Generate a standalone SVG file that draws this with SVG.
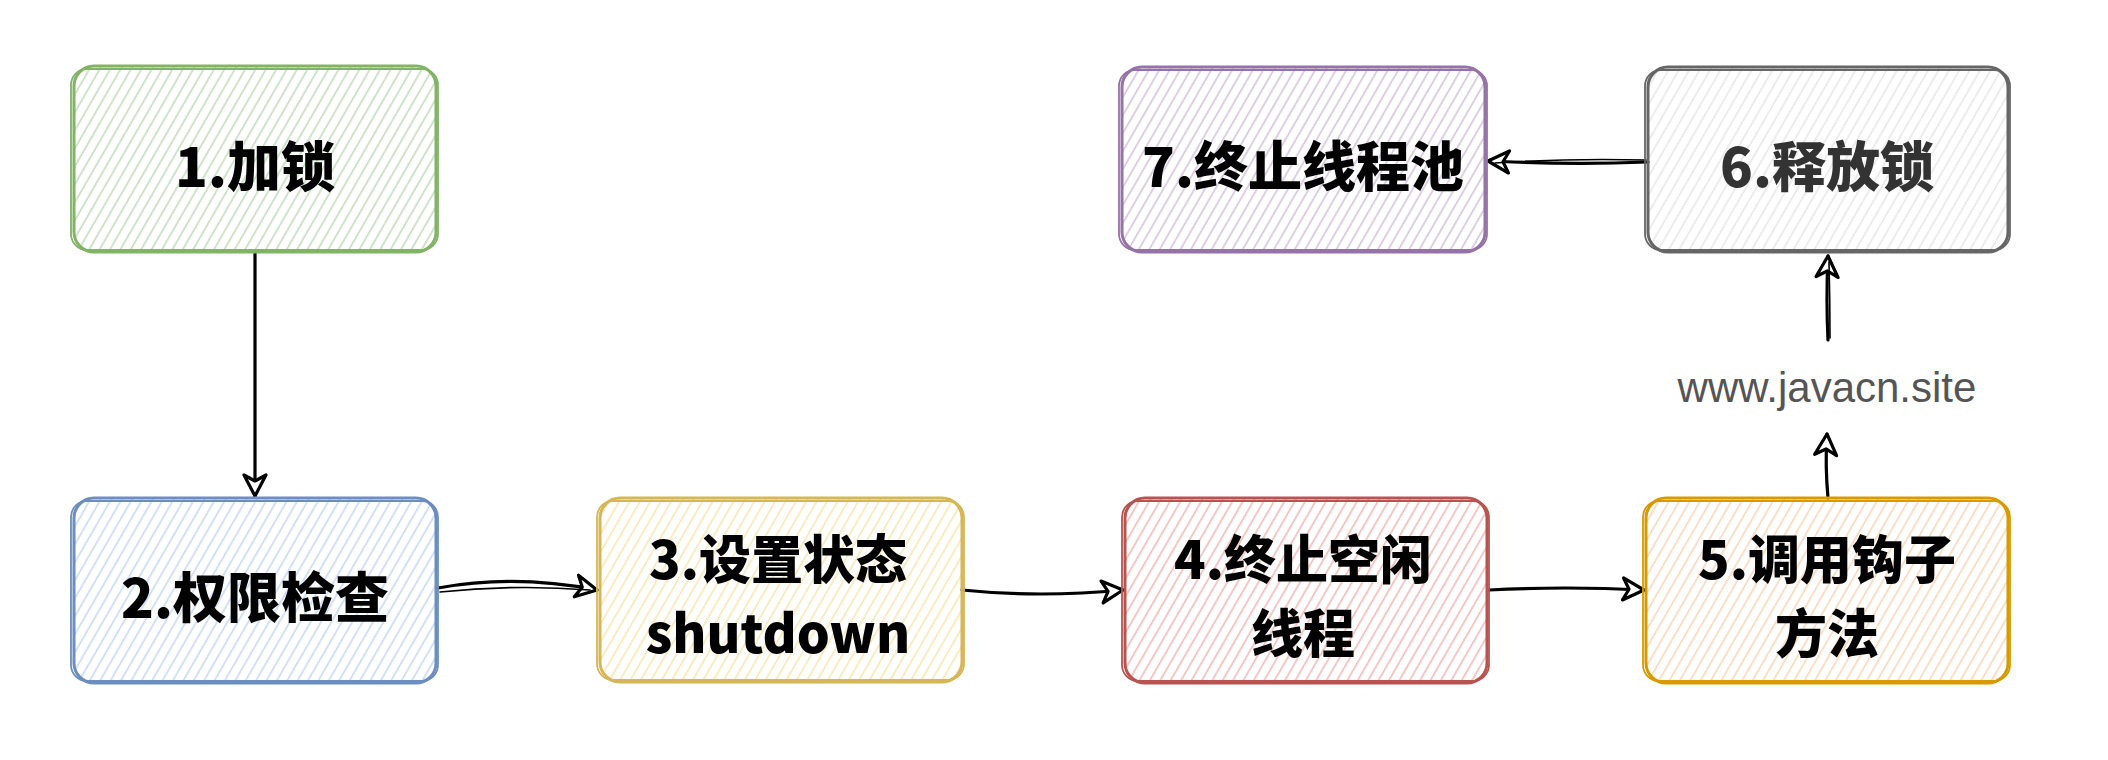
<svg xmlns="http://www.w3.org/2000/svg" width="2108" height="760" viewBox="0 0 2108 760">
  <style>
    .label { font-family: "Noto Sans CJK SC", "Noto Sans", sans-serif; font-weight: 900; font-size: 54px; fill: #000000; text-anchor: middle; dominant-baseline: central; }
    .two { font-size: 52px; }
    .b1 { fill: none; stroke-width: 3; }
    .b2 { fill: none; stroke-width: 1.8; }
    .conn { fill: none; stroke: #000000; stroke-width: 3.2; stroke-linecap: round; }
    .conn2 { fill: none; stroke: #000000; stroke-width: 1.6; stroke-linecap: round; }
    .site { font-family: "Liberation Sans", Arial, sans-serif; font-size: 42px; fill: #555555; text-anchor: middle; }
  </style>
  <defs>
    <pattern id="hG" patternUnits="userSpaceOnUse" width="9" height="9" patternTransform="rotate(30)"><line x1="4" y1="0" x2="4" y2="9" stroke="#c6e0c0" stroke-width="1.7"/></pattern>
    <pattern id="hB" patternUnits="userSpaceOnUse" width="9" height="9" patternTransform="rotate(30)"><line x1="4" y1="0" x2="4" y2="9" stroke="#cadcf6" stroke-width="1.7"/></pattern>
    <pattern id="hY" patternUnits="userSpaceOnUse" width="9" height="9" patternTransform="rotate(30)"><line x1="4" y1="0" x2="4" y2="9" stroke="#f9e8b8" stroke-width="1.7"/></pattern>
    <pattern id="hR" patternUnits="userSpaceOnUse" width="9" height="9" patternTransform="rotate(30)"><line x1="4" y1="0" x2="4" y2="9" stroke="#f3bebc" stroke-width="1.7"/></pattern>
    <pattern id="hO" patternUnits="userSpaceOnUse" width="9" height="9" patternTransform="rotate(30)"><line x1="4" y1="0" x2="4" y2="9" stroke="#fbd9bc" stroke-width="1.7"/></pattern>
    <pattern id="hS" patternUnits="userSpaceOnUse" width="9" height="9" patternTransform="rotate(30)"><line x1="4" y1="0" x2="4" y2="9" stroke="#e9e9e9" stroke-width="1.7"/></pattern>
    <pattern id="hP" patternUnits="userSpaceOnUse" width="9" height="9" patternTransform="rotate(30)"><line x1="4" y1="0" x2="4" y2="9" stroke="#d8c8e0" stroke-width="1.7"/></pattern>
    <marker id="arr" markerUnits="userSpaceOnUse" markerWidth="30" markerHeight="30" refX="25" refY="15" orient="auto">
      <path d="M4,4 L25,15 L4,26 L10,15 Z" fill="#ffffff" stroke="#000000" stroke-width="3.2" stroke-linejoin="round"/>
    </marker>
  </defs>

  <g id="connectors">
    <path class="conn" d="M255,252 L255,496" marker-end="url(#arr)"/>
    <path class="conn" d="M438,588 Q515,574 597,590" marker-end="url(#arr)"/>
    <path class="conn2" d="M440,592 Q515,584 590,590"/>
    <path class="conn" d="M962,590 Q1040,598 1123,590" marker-end="url(#arr)"/>
    <path class="conn" d="M1489,590 Q1565,586 1644,590" marker-end="url(#arr)"/>
    <path class="conn" d="M1828,498 Q1825,465 1827,434" marker-end="url(#arr)"/>
    <path class="conn" d="M1828,340 Q1826,300 1828,256" marker-end="url(#arr)"/>
    <path class="conn2" d="M1830,338 Q1830,300 1829,262"/>
    <path class="conn" d="M1648,162 Q1570,165 1488,161" marker-end="url(#arr)"/>
    <path class="conn2" d="M1646,160 Q1570,158 1495,163"/>
  </g>

  <g id="node1">
    <rect x="74" y="66" width="362" height="186" rx="20" fill="url(#hG)"/>
    <rect class="b1" x="74" y="66" width="362" height="186" rx="20" stroke="#82b366"/>
    <rect class="b2" x="71" y="69" width="367" height="181" rx="16" stroke="#82b366"/>
    <text class="label" x="255" y="163">1.加锁</text>
  </g>

  <g id="node2">
    <rect x="74" y="498" width="362" height="185" rx="20" fill="url(#hB)"/>
    <rect class="b1" x="74" y="498" width="362" height="185" rx="20" stroke="#6c8ebf"/>
    <rect class="b2" x="71" y="501" width="367" height="180" rx="16" stroke="#6c8ebf"/>
    <text class="label" x="255" y="594">2.权限检查</text>
  </g>

  <g id="node3">
    <rect x="600" y="498" width="362" height="184" rx="20" fill="url(#hY)"/>
    <rect class="b1" x="600" y="498" width="362" height="184" rx="20" stroke="#d6b656"/>
    <rect class="b2" x="597" y="501" width="367" height="179" rx="16" stroke="#d6b656"/>
    <text class="label two" x="778" y="556">3.设置状态</text>
    <text class="label two" x="778" y="630">shutdown</text>
  </g>

  <g id="node4">
    <rect x="1125" y="498" width="362" height="185" rx="20" fill="url(#hR)"/>
    <rect class="b1" x="1125" y="498" width="362" height="185" rx="20" stroke="#b85450"/>
    <rect class="b2" x="1122" y="501" width="367" height="180" rx="16" stroke="#b85450"/>
    <text class="label two" x="1303" y="556">4.终止空闲</text>
    <text class="label two" x="1303" y="630">线程</text>
  </g>

  <g id="node5">
    <rect x="1646" y="498" width="362" height="185" rx="20" fill="url(#hO)"/>
    <rect class="b1" x="1646" y="498" width="362" height="185" rx="20" stroke="#d79b00"/>
    <rect class="b2" x="1643" y="501" width="367" height="180" rx="16" stroke="#d79b00"/>
    <text class="label two" x="1827" y="556">5.调用钩子</text>
    <text class="label two" x="1827" y="630">方法</text>
  </g>

  <g id="node6">
    <rect x="1648" y="67" width="360" height="185" rx="20" fill="url(#hS)"/>
    <rect class="b1" x="1648" y="67" width="360" height="185" rx="20" stroke="#666666"/>
    <rect class="b2" x="1645" y="70" width="365" height="180" rx="16" stroke="#666666"/>
    <text class="label" x="1827" y="163" style="fill:#333333">6.释放锁</text>
  </g>

  <g id="node7">
    <rect x="1122" y="67" width="363" height="185" rx="20" fill="url(#hP)"/>
    <rect class="b1" x="1122" y="67" width="363" height="185" rx="20" stroke="#9673a6"/>
    <rect class="b2" x="1119" y="70" width="368" height="180" rx="16" stroke="#9673a6"/>
    <text class="label" x="1303" y="163">7.终止线程池</text>
  </g>

  <g id="watermark">
    <text class="site" x="1827" y="402">www.javacn.site</text>
  </g>
</svg>
